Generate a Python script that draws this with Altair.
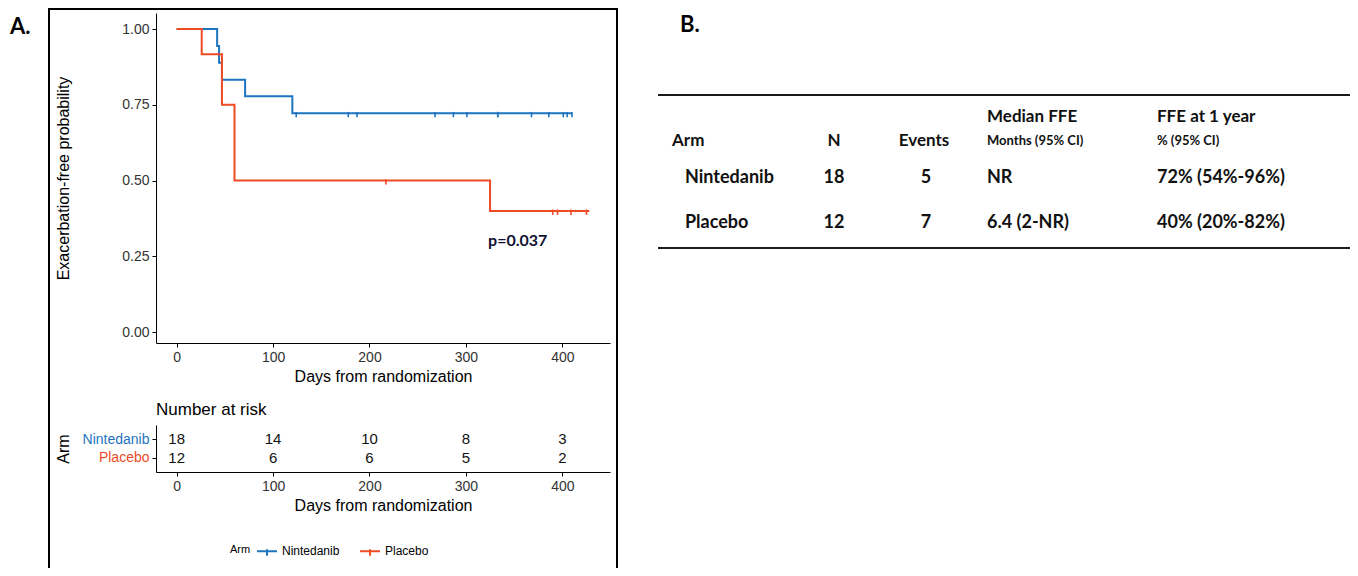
import altair as alt
import pandas as pd

# ---------------- data ----------------
arms = ["Nintedanib", "Placebo"]
arm_colors = ["#1f74c0", "#ee4b23"]

# Kaplan-Meier steps (days, exacerbation-free probability)
nin_time = [0, 42, 44, 47, 71, 120, 410]
nin_surv = [1.0, 0.944, 0.889, 0.833, 0.778, 0.722, 0.722]
pla_time = [0, 26, 47, 60, 325, 428]
pla_surv = [1.0, 0.917, 0.75, 0.5, 0.4, 0.4]

# censoring marks
nin_cens_time = [124, 178, 187, 268, 287, 301, 333, 333, 368, 386, 401, 405, 410]
nin_cens_surv = [0.722, 0.722, 0.722, 0.722, 0.722, 0.722, 0.722, 0.722, 0.722, 0.722, 0.722, 0.722, 0.722]
pla_cens_time = [217, 390, 395, 409, 425]
pla_cens_surv = [0.5, 0.4, 0.4, 0.4, 0.4]

# number at risk
risk_days = [0, 100, 200, 300, 400]
nin_at_risk = [18, 14, 10, 8, 3]
pla_at_risk = [12, 6, 6, 5, 2]

p_label = ["p=0.037"]
p_day = [323]
p_prob = [0.30]

x_ticks = [0, 100, 200, 300, 400]
y_ticks = [0.0, 0.25, 0.5, 0.75, 1.0]

# table B
tbl_n = [18, 12]
tbl_events = [5, 7]
tbl_median = ["NR", "6.4 (2-NR)"]
tbl_ffe1y = ["72% (54%-96%)", "40% (20%-82%)"]

# ---------------- frames ----------------
km_df = pd.concat([
    pd.DataFrame({"arm": "Nintedanib", "time": nin_time, "surv": nin_surv}),
    pd.DataFrame({"arm": "Placebo", "time": pla_time, "surv": pla_surv}),
])
cens_df = pd.concat([
    pd.DataFrame({"arm": "Nintedanib", "time": nin_cens_time, "surv": nin_cens_surv}),
    pd.DataFrame({"arm": "Placebo", "time": pla_cens_time, "surv": pla_cens_surv}),
])
risk_df = pd.concat([
    pd.DataFrame({"arm": "Nintedanib", "day": risk_days, "n": nin_at_risk}),
    pd.DataFrame({"arm": "Placebo", "day": risk_days, "n": pla_at_risk}),
])
p_df = pd.DataFrame({"label": p_label, "day": p_day, "prob": p_prob})
tbl_df = pd.DataFrame({"arm": arms, "n": tbl_n, "events": tbl_events,
                       "median": tbl_median, "ffe": tbl_ffe1y})
one = pd.DataFrame({"k": [0]})

W, H = 1342, 560
AX_FONT = "Liberation Sans"
TB_FONT = "Lato"

xs = alt.Scale(domain=[-21.4, 449.4], range=[148, 602], nice=False, zero=False)
ys_main = alt.Scale(domain=[-0.036, 1.053], range=[335, 5], nice=False, zero=False)
ys_risk = alt.Scale(domain=arms, range=[417, 464], padding=0.8)
col_scale = alt.Scale(domain=arms, range=arm_colors)

axis_style = dict(grid=False, domainColor="#000000", domainWidth=1, tickColor="#000000",
                  tickSize=4, labelFont=AX_FONT, labelFontSize=14, labelColor="#333333",
                  labelPadding=3, titleFont=AX_FONT, titleFontSize=16,
                  titleFontWeight="normal", titleColor="#000000")

# panel A border
box = alt.Chart(one).mark_rect(fillOpacity=0, stroke="#000000", strokeWidth=2).encode(
    x=alt.value(41), x2=alt.value(609), y=alt.value(1), y2=alt.value(H + 20))

lines = alt.Chart(km_df).mark_line(interpolate="step-after", strokeWidth=2).encode(
    x=alt.X("time:Q", scale=xs,
            axis=alt.Axis(orient="bottom", offset=335 - H, values=x_ticks,
                          title="Days from randomization", titlePadding=4, **axis_style)),
    y=alt.Y("surv:Q", scale=ys_main,
            axis=alt.Axis(orient="left", offset=-148, values=y_ticks, format=".2f",
                          title="Exacerbation-free probability", titleX=-93,
                          titleBaseline="middle", **axis_style)),
    color=alt.Color("arm:N", scale=col_scale,
                    legend=alt.Legend(orient="none", legendX=222, legendY=532,
                                      direction="horizontal", title="Arm",
                                      titleOrient="left", titleFont=AX_FONT,
                                      titleFontSize=11, titleFontWeight="normal",
                                      labelFont=AX_FONT, labelFontSize=12,
                                      symbolType="M-1,0H1M0,-0.2V0.45",
                                      symbolSize=400, symbolStrokeWidth=2,
                                      columnPadding=16, labelOffset=4)),
)

censor = alt.Chart(cens_df).mark_point(shape="M0,-0.35V1", size=64, filled=False,
                                       strokeWidth=1.6, opacity=1).encode(
    x=alt.X("time:Q", scale=xs, axis=None),
    y=alt.Y("surv:Q", scale=ys_main, axis=None),
    color=alt.Color("arm:N", scale=col_scale, legend=None),
)

ptext = alt.Chart(p_df).mark_text(align="left", baseline="middle", font=TB_FONT,
                                  fontSize=16, fontWeight="bold", color="#111133").encode(
    x=alt.X("day:Q", scale=xs, axis=None),
    y=alt.Y("prob:Q", scale=ys_main, axis=None),
    text="label:N",
)

risk = alt.Chart(risk_df).mark_text(font=AX_FONT, fontSize=15, color="#111111",
                                    baseline="middle").encode(
    x=alt.X("day:Q", scale=xs,
            axis=alt.Axis(orient="bottom", offset=464 - H, values=x_ticks,
                          title="Days from randomization", titlePadding=4, **axis_style)),
    y=alt.Y("arm:N", scale=ys_risk,
            axis=alt.Axis(orient="left", offset=-148, title="Arm", titleX=-93,
                          titleBaseline="middle",
                          **{**axis_style,
                             "labelColor": {"condition": {"test": "datum.value === 'Nintedanib'",
                                                          "value": arm_colors[0]},
                                            "value": arm_colors[1]}})),
    text="n:Q",
)

risk_title = alt.Chart(one).mark_text(text="Number at risk", align="left", baseline="middle",
                                      font=AX_FONT, fontSize=17, color="#000000").encode(
    x=alt.value(148), y=alt.value(402))

label_a = alt.Chart(one).mark_text(text="A.", align="left", baseline="middle",
                                   font=TB_FONT, fontSize=22, fontWeight="bold",
                                   color="#000000").encode(x=alt.value(2), y=alt.value(19))
label_b = alt.Chart(one).mark_text(text="B.", align="left", baseline="middle",
                                   font=TB_FONT, fontSize=22, fontWeight="bold",
                                   color="#000000").encode(x=alt.value(672), y=alt.value(17))

# table B
rule_top = alt.Chart(one).mark_rule(color="#1a1a1a", strokeWidth=2).encode(
    x=alt.value(650), x2=alt.value(W), y=alt.value(87))
rule_bot = alt.Chart(one).mark_rule(color="#1a1a1a", strokeWidth=2).encode(
    x=alt.value(650), x2=alt.value(W), y=alt.value(240))

headers = [
    ("Arm", 664, 133, "left", 17),
    ("N", 826, 133, "center", 17),
    ("Events", 916, 133, "center", 17),
    ("Median FFE", 979, 109, "left", 17),
    ("Months (95% CI)", 979, 133, "left", 13),
    ("FFE at 1 year", 1149, 109, "left", 17),
    ("% (95% CI)", 1149, 133, "left", 13),
]
hdr_layers = [
    alt.Chart(one).mark_text(text=t, align=a, baseline="middle", font=TB_FONT,
                             fontSize=fs, fontWeight="bold", color="#111111").encode(
        x=alt.value(xp), y=alt.value(yp))
    for t, xp, yp, a, fs in headers
]

row_scale = alt.Scale(domain=arms, range=[170, 215], padding=0)
body_cols = [("arm", 677, "left"), ("n", 826, "center"), ("events", 918, "center"),
             ("median", 979, "left"), ("ffe", 1149, "left")]
body_layers = [
    alt.Chart(tbl_df).mark_text(align=a, baseline="middle", font=TB_FONT, fontSize=18,
                                fontWeight="bold", color="#111111").encode(
        x=alt.value(xp), y=alt.Y("arm:N", scale=row_scale, axis=None),
        text=f"{f}:N")
    for f, xp, a in body_cols
]

chart = alt.layer(box, lines, censor, ptext, risk, risk_title, label_a, label_b,
                  rule_top, rule_bot, *hdr_layers, *body_layers).resolve_scale(
    x="independent", y="independent"
).properties(
    width=W, height=H, padding=0, autosize=alt.AutoSizeParams(type="none")
).configure_view(strokeWidth=0, strokeOpacity=0)

chart.save("out.html", embed_options={"renderer": "svg", "actions": False})
